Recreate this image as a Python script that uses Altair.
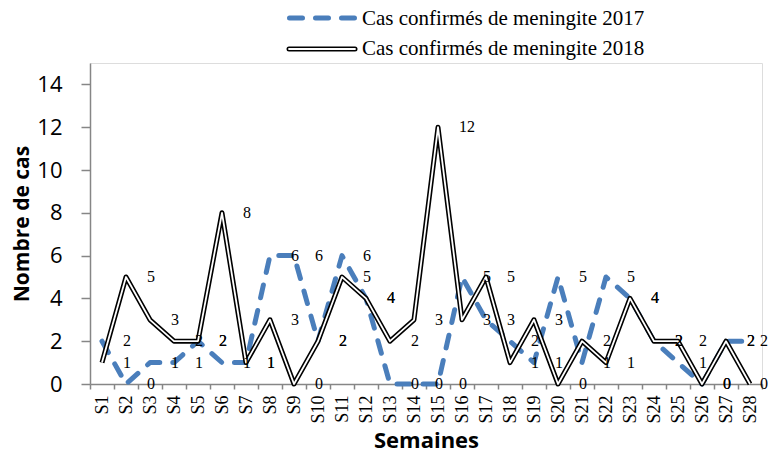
import altair as alt
import pandas as pd

weeks = [f"S{i}" for i in range(1, 29)]
series = ["Cas confirmés de meningite 2017", "Cas confirmés de meningite 2018"]
cases_2017 = [2, 0, 1, 1, 2, 1, 1, 6, 6, 2, 6, 4, 0, 0, 0, 5, 3, 2, 1, 5, 1, 5, 4, 2, 1, 0, 2, 2]
cases_2018 = [1, 5, 3, 2, 2, 8, 1, 3, 0, 2, 5, 4, 2, 3, 12, 3, 5, 1, 3, 0, 2, 1, 4, 2, 2, 0, 2, 0]
y_ticks = [0, 2, 4, 6, 8, 10, 12, 14]

df17 = pd.DataFrame({"week": weeks, "value": cases_2017, "series": series[0]})
df18 = pd.DataFrame({"week": weeks, "value": cases_2018, "series": series[1]})
df_all = pd.concat([df17, df18], ignore_index=True)
last_week = weeks[-1]

BLUE = "#4A7EBB"
GRAY = "#868686"
SERIF = "Liberation Serif"
SANS = "Open Sans"

xenc = alt.X(
    "week:N",
    sort=weeks,
    scale=alt.Scale(type="band", paddingInner=0, paddingOuter=0),
    axis=alt.Axis(
        title="Semaines",
        titleFont=SANS,
        titleFontSize=22,
        titleFontWeight="bold",
        titleColor="black",
        titleBaseline="top",
        titleY=46,
        labelAngle=-90,
        labelFont=SERIF,
        labelFontSize=18,
        labelColor="black",
        labelPadding=6,
        tickBand="extent",
        tickSize=5,
        tickColor=GRAY,
        domainColor=GRAY,
        domainWidth=1.5,
        tickWidth=1.5,
    ),
)
yenc = alt.Y(
    "value:Q",
    scale=alt.Scale(domain=[0, 15], nice=False),
    axis=alt.Axis(
        title="Nombre de cas",
        titleFont=SANS,
        titleFontSize=21,
        titleFontWeight="bold",
        titleColor="black",
        titleBaseline="middle",
        titleX=-68,
        values=y_ticks,
        labelFont=SANS,
        labelFontSize=22,
        labelColor="black",
        labelPadding=19,
        tickSize=9,
        tickColor=GRAY,
        domainColor=GRAY,
        domainWidth=1.5,
        tickWidth=1.5,
        grid=False,
    ),
)

base17 = alt.Chart(df17)
base18 = alt.Chart(df18)

line17 = base17.mark_line(
    color=BLUE, strokeWidth=5, strokeDash=[13, 13], strokeCap="round", strokeJoin="round"
).encode(x=xenc, y=yenc)
line18_outer = base18.mark_line(color="black", strokeWidth=5, strokeJoin="round").encode(x=xenc, y=yenc)
line18_inner = base18.mark_line(color="white", strokeWidth=1.8, strokeJoin="round").encode(x=xenc, y=yenc)

text_style = dict(font=SERIF, fontSize=16, align="left", baseline="middle", color="black")
labels = alt.Chart(df_all).transform_filter(
    alt.datum.week != last_week
).mark_text(dx=21, **text_style).encode(x=xenc, y=yenc, text="value:Q")
labels_last = alt.Chart(df_all).transform_filter(
    alt.datum.week == last_week
).mark_text(dx=10, **text_style).encode(x=xenc, y=yenc, text="value:Q")

# legend
leg_df17 = pd.DataFrame({"series": [series[0]]})
leg_df18 = pd.DataFrame({"series": [series[1]]})
leg17_sym = alt.Chart(leg_df17).mark_rule(
    color=BLUE, strokeWidth=5, strokeDash=[13, 13], strokeCap="round"
).encode(x=alt.value(199.5), x2=alt.value(265), y=alt.value(-45))
leg18_outer = alt.Chart(leg_df18).mark_rule(color="black", strokeWidth=5, strokeCap="round").encode(
    x=alt.value(199), x2=alt.value(265), y=alt.value(-14)
)
leg18_inner = alt.Chart(leg_df18).mark_rule(color="white", strokeWidth=1.8, strokeCap="round").encode(
    x=alt.value(199), x2=alt.value(265), y=alt.value(-14)
)
leg17_txt = alt.Chart(leg_df17).mark_text(
    font=SERIF, fontSize=21, align="left", baseline="middle", color="black"
).encode(x=alt.value(272), y=alt.value(-44), text="series:N")
leg18_txt = alt.Chart(leg_df18).mark_text(
    font=SERIF, fontSize=21, align="left", baseline="middle", color="black"
).encode(x=alt.value(272), y=alt.value(-14), text="series:N")

chart = alt.layer(
    line17, line18_outer, line18_inner, labels, labels_last,
    leg17_sym, leg18_outer, leg18_inner, leg17_txt, leg18_txt,
).properties(
    width=672,
    height=321,
    autosize=alt.AutoSizeParams(type="none"),
    padding={"left": 82, "top": 55, "right": 6, "bottom": 65},
).configure_view(stroke=None).configure(background="white")

chart.save("out.html", embed_options={"renderer": "svg", "actions": False})
